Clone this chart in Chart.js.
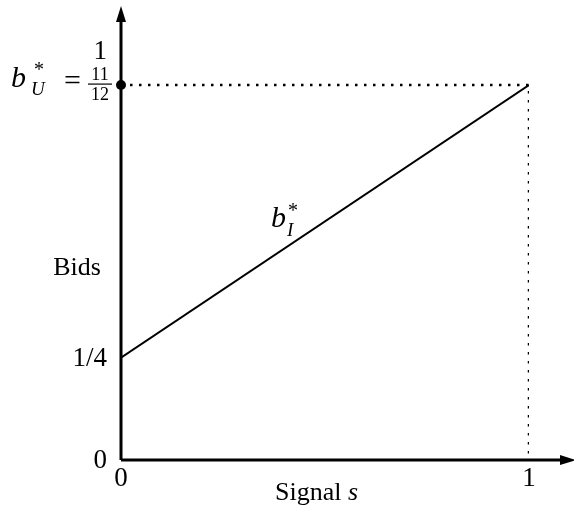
<!DOCTYPE html>
<html>
<head>
<meta charset="utf-8">
<script src="https://cdn.jsdelivr.net/npm/chart.js@4/dist/chart.umd.min.js"></script>
<style>
  html, body { margin: 0; padding: 0; background: #fff; }
  #wrap { width: 574px; height: 508px; }
</style>
</head>
<body>
<div id="wrap"><canvas id="bids-chart"></canvas></div>
<script>
// data
const signal = [0, 1];
const bidI = [0.25, 11 / 12];
const bidU = 11 / 12;
const yTicks = [0, 0.25, 1];
const yTickLabels = ['0', '1/4', '1'];
const xTicks = [0, 1];
const xTickLabels = ['0', '1'];

const serif = '"Liberation Serif", "DejaVu Serif", serif';

const axesPlugin = {
    id: 'axesPlugin',
    afterDraw(chart) {
        const ctx = chart.ctx;
        const x = chart.scales.x, y = chart.scales.y;
        const x0 = x.getPixelForValue(0), y0 = y.getPixelForValue(0);
        ctx.save();
        ctx.strokeStyle = '#000';
        ctx.fillStyle = '#000';
        ctx.lineWidth = 3;
        // axes
        ctx.beginPath();
        ctx.moveTo(x0, y0); ctx.lineTo(x0, 18);
        ctx.moveTo(x0, y0); ctx.lineTo(563, y0);
        ctx.stroke();
        // arrow heads
        ctx.beginPath();
        ctx.moveTo(x0, 6); ctx.lineTo(x0 - 5, 22); ctx.lineTo(x0 + 5, 22); ctx.closePath();
        ctx.fill();
        ctx.beginPath();
        ctx.moveTo(576, y0); ctx.lineTo(560, y0 - 5); ctx.lineTo(560, y0 + 5); ctx.closePath();
        ctx.fill();

        // point b_U*
        ctx.beginPath();
        ctx.arc(x0, y.getPixelForValue(bidU), 5, 0, Math.PI * 2);
        ctx.fill();

        // tick labels
        ctx.font = '27px ' + serif;
        ctx.textBaseline = 'middle';
        ctx.textAlign = 'right';
        yTicks.forEach((v, i) => {
            ctx.fillText(yTickLabels[i], 107, y.getPixelForValue(v) + 1);
        });
        ctx.textAlign = 'center';
        xTicks.forEach((v, i) => {
            ctx.fillText(xTickLabels[i], x.getPixelForValue(v), 479);
        });

        // axis titles
        ctx.font = '26px ' + serif;
        ctx.fillText('Bids', 77, 268);
        ctx.textAlign = 'left';
        ctx.fillText('Signal ', 275, 493);
        const w = ctx.measureText('Signal ').width;
        ctx.font = 'italic 26px ' + serif;
        ctx.fillText('s', 275 + w, 493);

        // b_U* = 11/12
        const by = y.getPixelForValue(bidU);
        ctx.font = 'italic 30px ' + serif;
        ctx.fillText('b', 11, by - 6);
        ctx.font = '20px ' + serif;
        ctx.fillText('*', 34, by - 14);
        ctx.font = 'italic 19px ' + serif;
        ctx.fillText('U', 31, by + 5);
        ctx.font = '30px ' + serif;
        ctx.fillText('=', 64, by - 3);
        ctx.font = '18px ' + serif;
        ctx.textAlign = 'center';
        ctx.fillText('11', 100, by - 10);
        ctx.fillText('12', 100, by + 10);
        ctx.lineWidth = 1.2;
        ctx.beginPath();
        ctx.moveTo(88, by - 1); ctx.lineTo(112, by - 1);
        ctx.stroke();

        // b_I* label
        ctx.textAlign = 'left';
        ctx.font = 'italic 30px ' + serif;
        ctx.fillText('b', 271, 219);
        ctx.font = '20px ' + serif;
        ctx.fillText('*', 288, 212);
        ctx.font = 'italic 19px ' + serif;
        ctx.fillText('I', 287, 231);
        ctx.restore();
    }
};

new Chart(document.getElementById('bids-chart'), {
    type: 'line',
    data: {
        datasets: [{
            label: 'b_I*',
            data: signal.map((s, i) => ({ x: s, y: bidI[i] })),
            borderColor: '#000',
            borderWidth: 2,
            pointRadius: 0,
            tension: 0
        }, {
            label: 'guide',
            data: [{ x: 0, y: bidU }, { x: 1, y: bidU }, { x: 1, y: 0 }],
            borderColor: '#000',
            borderWidth: 2.5,
            borderDash: [2.5, 6.5],
            pointRadius: 0,
            tension: 0
        }]
    },
    options: {
        responsive: true,
        maintainAspectRatio: false,
        animation: false,
        layout: { padding: { left: 121, right: 45, top: 51, bottom: 48 } },
        scales: {
            x: { type: 'linear', min: 0, max: 1, display: false },
            y: { type: 'linear', min: 0, max: 1, display: false }
        },
        plugins: {
            legend: { display: false },
            tooltip: { enabled: false }
        }
    },
    plugins: [axesPlugin]
});
</script>
</body>
</html>
